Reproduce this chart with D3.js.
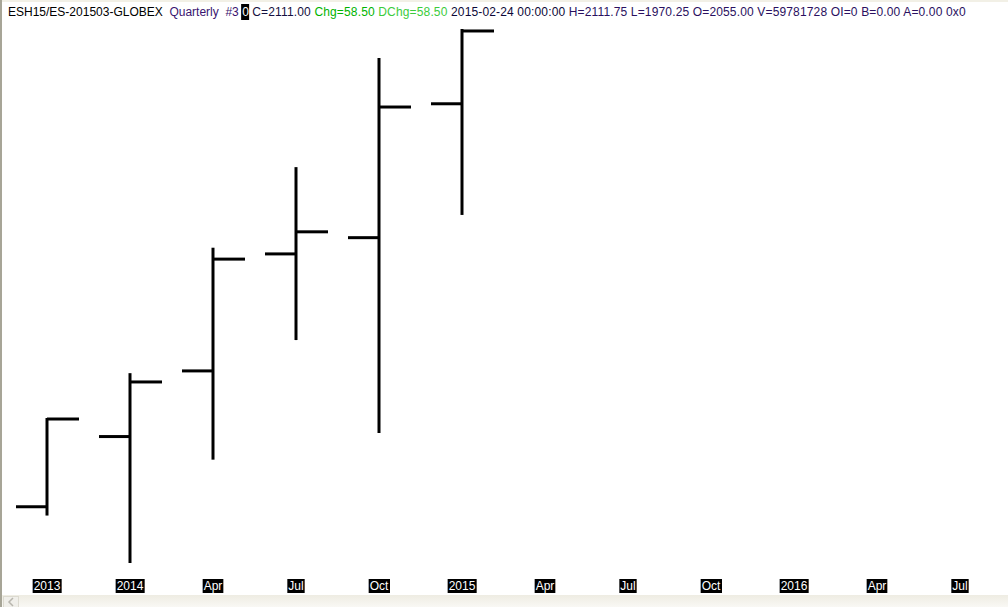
<!DOCTYPE html>
<html>
<head>
<meta charset="utf-8">
<script src="https://cdn.jsdelivr.net/npm/d3@7"></script>
<style>
  body { margin: 0; background: #fff; }
  svg { display: block; font-family: Arial, "Liberation Sans", sans-serif; }
  text { white-space: pre; }
</style>
</head>
<body>
<svg id="chart" width="1008" height="607"></svg>
<script>
// quarterly OHLC bars
const opens  = [1745.0, 1799.0, 1849.5, 1939.5, 1952.0, 2055.00];
const highs  = [1812.5, 1847.0, 1943.5, 2005.5, 2089.5, 2111.75];
const lows   = [1739.0, 1702.5, 1782.0, 1874.0, 1802.5, 1970.25];
const closes = [1812.5, 1841.0, 1935.5, 1956.5, 2052.5, 2111.00];

// time axis slots (one per quarter)
const tickLabels = ["2013", "2014", "Apr", "Jul", "Oct", "2015", "Apr", "Jul", "Oct", "2016", "Apr", "Jul"];

// header pieces: text, colour
const header = [
  ["ESH15/ES-201503-GLOBEX  ", "#000000"],
  ["Quarterly  #3 ", "#3a1470"],
  ["0", "cursor"],
  [" C=2111.00 ", "#141040"],
  ["Chg=58.50 ", "#00b400"],
  ["DChg=58.50 ", "#3ccc3c"],
  ["2015-02-24 00:00:00 ", "#0c0838"],
  ["H=2111.75 L=1970.25 O=2055.00 V=59781728 OI=0 B=0.00 A=0.00 0x0", "#2a1060"]
];

const bars = opens.map((o, i) => ({ i, o, h: highs[i], l: lows[i], c: closes[i] }));

const svg = d3.select("#chart");
const W = 1008, H = 607;

const x = d3.scaleLinear().domain([0, tickLabels.length - 1]).range([47, 960]);
const y = d3.scaleLinear().domain([d3.min(lows), d3.max(highs)]).range([562, 30]);
const tickW = 31;

// window frame bits
svg.append("rect").attr("x", 0).attr("y", 0).attr("width", W).attr("height", 2).attr("fill", "#f2f0e6");
svg.append("rect").attr("x", 0).attr("y", 0).attr("width", 2).attr("height", H).attr("fill", "#a7a597");

// bars
const g = svg.append("g").attr("stroke", "#000").attr("stroke-width", 3).attr("fill", "none");
g.selectAll("line.hl").data(bars).enter().append("line")
  .attr("x1", d => x(d.i)).attr("x2", d => x(d.i))
  .attr("y1", d => y(d.h) - 1).attr("y2", d => y(d.l) + 1);
g.selectAll("line.o").data(bars).enter().append("line")
  .attr("x1", d => x(d.i) - tickW).attr("x2", d => x(d.i))
  .attr("y1", d => y(d.o)).attr("y2", d => y(d.o));
g.selectAll("line.c").data(bars).enter().append("line")
  .attr("x1", d => x(d.i)).attr("x2", d => x(d.i) + tickW + 1)
  .attr("y1", d => y(d.c)).attr("y2", d => y(d.c));

// time axis labels, white on black
const labBg = svg.append("g");
const lab = svg.append("g").attr("font-size", 12);
tickLabels.forEach((t, i) => {
  const tx = lab.append("text").attr("x", x(i)).attr("y", 590)
    .attr("text-anchor", "middle").attr("fill", "#fff").text(t);
  const bb = tx.node().getBBox();
  labBg.append("rect").attr("x", bb.x - 1).attr("y", 579)
    .attr("width", bb.width + 2).attr("height", 14).attr("fill", "#000");
});

// header line
const hdrBg = svg.append("g");
const ht = svg.append("text").attr("x", 8).attr("y", 16).attr("font-size", 12);
let cursorSpan;
header.forEach(([s, col], k) => {
  const sp = ht.append("tspan").text(s).attr("fill", col === "cursor" ? "#fff" : col);
  if (k > 2) sp.attr("letter-spacing", 0.15);
  if (col === "cursor") cursorSpan = sp;
});
const cb = cursorSpan.node().getBBox();
hdrBg.append("rect").attr("x", cb.x - 1).attr("y", 4)
  .attr("width", cb.width + 1).attr("height", 16).attr("fill", "#000");

// scrollbar strip at the bottom
const grad = svg.append("defs").append("linearGradient").attr("id", "sb")
  .attr("x1", 0).attr("y1", 0).attr("x2", 0).attr("y2", 1);
grad.append("stop").attr("offset", 0).attr("stop-color", "#eeece2");
grad.append("stop").attr("offset", 1).attr("stop-color", "#f9f8f4");
svg.append("rect").attr("x", 2).attr("y", 595).attr("width", W - 2).attr("height", 12).attr("fill", "url(#sb)");
svg.append("rect").attr("x", 3.5).attr("y", 596.5).attr("width", 15).attr("height", 11)
  .attr("fill", "#f0efea").attr("stroke", "#dcdad0");
svg.append("path").attr("d", "M13,598 L9,602 L13,606").attr("stroke", "#b8b6ae")
  .attr("stroke-width", 1.5).attr("fill", "none");
</script>
</body>
</html>
